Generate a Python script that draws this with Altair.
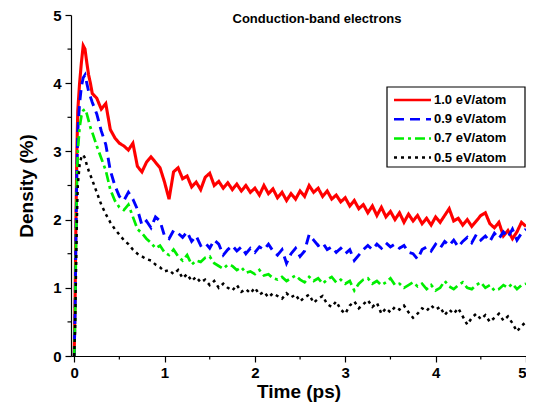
import altair as alt
import pandas as pd

# ---- data ----
t_early = [0, 0.01, 0.02, 0.03, 0.04, 0.06, 0.08, 0.10, 0.12, 0.14, 0.16, 0.18, 0.20]

red_early = [0, 0.8, 2.0, 3.0, 3.6, 4.0, 4.3, 4.55, 4.5, 4.3, 4.12, 4.0, 3.85]
red_late = [3.78, 3.62, 3.7, 3.32, 3.2, 3.12, 3.08, 3.02, 3.12, 2.78, 2.7, 2.84, 2.92, 2.84, 2.76, 2.55,
            2.3, 2.7, 2.76, 2.6, 2.64, 2.48, 2.55, 2.44, 2.62, 2.68, 2.5, 2.56, 2.46, 2.54, 2.44, 2.52,
            2.42, 2.5, 2.4, 2.46, 2.36, 2.5, 2.38, 2.45, 2.32, 2.4, 2.28, 2.38, 2.3, 2.42, 2.34, 2.5,
            2.4, 2.46, 2.34, 2.42, 2.3, 2.36, 2.26, 2.32, 2.2, 2.28, 2.16, 2.22, 2.1, 2.2, 2.06, 2.18,
            2.04, 2.12, 2.0, 2.1, 1.96, 2.08, 1.98, 2.06, 1.94, 2.02, 1.92, 2.04, 1.96, 2.06, 2.16, 1.98,
            2.02, 1.92, 2.0, 1.9, 1.98, 2.06, 2.1, 1.94, 1.88, 1.96, 1.76, 1.84, 1.72, 1.82, 1.96, 1.9]

blue_early = [0, 0.6, 1.8, 2.7, 3.3, 3.7, 3.95, 4.08, 4.12, 4.0, 3.88, 3.8, 3.72]
blue_late = [3.55, 3.3, 3.1, 2.72, 2.5, 2.34, 2.28, 2.4, 2.3, 2.15, 1.92, 1.98, 1.88, 2.04, 1.98, 1.76,
             1.72, 1.84, 1.8, 1.74, 1.82, 1.68, 1.76, 1.62, 1.66, 1.58, 1.7, 1.64, 1.48, 1.56, 1.62, 1.54,
             1.6, 1.5, 1.58, 1.52, 1.6, 1.56, 1.64, 1.54, 1.48, 1.56, 1.36, 1.5, 1.58, 1.46, 1.54, 1.78,
             1.7, 1.62, 1.66, 1.56, 1.6, 1.52, 1.58, 1.5, 1.56, 1.4, 1.48, 1.56, 1.62, 1.56, 1.64, 1.58,
             1.66, 1.6, 1.64, 1.58, 1.62, 1.52, 1.5, 1.42, 1.56, 1.6, 1.54, 1.64, 1.58, 1.68, 1.62, 1.7,
             1.6, 1.68, 1.74, 1.66, 1.78, 1.7, 1.76, 1.68, 1.8, 1.72, 1.82, 1.74, 1.86, 1.7, 1.8, 1.86]

green_early = [0, 0.5, 1.6, 2.5, 3.0, 3.35, 3.52, 3.6, 3.62, 3.55, 3.45, 3.35, 3.28]
green_late = [3.08, 2.9, 2.72, 2.44, 2.28, 2.18, 2.14, 2.22, 2.04, 1.86, 1.8, 1.72, 1.66, 1.58, 1.62, 1.52,
              1.48, 1.56, 1.46, 1.4, 1.48, 1.34, 1.4, 1.38, 1.44, 1.46, 1.36, 1.32, 1.28, 1.34, 1.32, 1.26,
              1.3, 1.22, 1.24, 1.2, 1.26, 1.18, 1.2, 1.14, 1.12, 1.16, 1.1, 1.14, 1.18, 1.12, 1.08, 1.16,
              1.1, 1.14, 1.06, 1.12, 1.16, 1.08, 1.12, 1.06, 1.1, 0.96, 1.06, 1.12, 1.14, 1.06, 1.1, 1.04,
              1.08, 1.14, 1.04, 1.06, 1.0, 1.04, 1.08, 1.02, 1.06, 0.98, 1.04, 0.96, 1.0, 1.1, 1.02, 0.98,
              1.04, 1.08, 1.0, 0.98, 1.04, 1.08, 1.0, 1.04, 0.96, 0.98, 1.04, 1.0, 1.06, 0.98, 1.04, 1.06]

black_early = [0, 0.4, 1.2, 2.0, 2.5, 2.8, 2.92, 2.95, 2.9, 2.8, 2.72, 2.65, 2.58]
black_late = [2.4, 2.22, 2.08, 1.96, 1.86, 1.78, 1.7, 1.64, 1.56, 1.5, 1.46, 1.42, 1.4, 1.34, 1.3, 1.24,
              1.26, 1.2, 1.26, 1.14, 1.2, 1.1, 1.16, 1.08, 1.12, 1.04, 1.1, 1.0, 1.06, 1.0, 0.96, 1.04,
              0.94, 0.98, 0.92, 1.0, 0.9, 0.94, 0.86, 0.92, 0.88, 0.84, 0.92, 0.86, 0.9, 0.8, 0.86, 0.9,
              0.78, 0.84, 0.88, 0.76, 0.72, 0.8, 0.68, 0.62, 0.74, 0.8, 0.7, 0.76, 0.82, 0.72, 0.78, 0.62,
              0.7, 0.64, 0.72, 0.68, 0.74, 0.64, 0.56, 0.62, 0.7, 0.66, 0.74, 0.68, 0.72, 0.6, 0.68, 0.62,
              0.7, 0.58, 0.46, 0.56, 0.62, 0.54, 0.6, 0.5, 0.56, 0.62, 0.52, 0.58, 0.48, 0.36, 0.44, 0.5]

series_names = ["1.0 eV/atom", "0.9 eV/atom", "0.7 eV/atom", "0.5 eV/atom"]
series_colors = ["#ff0000", "#0000ff", "#00ee00", "#000000"]
series_dash = [[1, 0], [10, 6], [10, 4, 3, 4], [3, 4]]
series_width = [3.1, 2.5, 2.5, 2.5]

x_major = [0, 1, 2, 3, 4, 5]
x_minor = [0.5, 1.5, 2.5, 3.5, 4.5]
y_major = [0, 1, 2, 3, 4, 5]
y_minor = [0.5, 1.5, 2.5, 3.5, 4.5]

rows = []
for name, early, late in zip(series_names,
                             [red_early, blue_early, green_early, black_early],
                             [red_late, blue_late, green_late, black_late]):
    ts = t_early + [round(0.25 + 0.05 * i, 2) for i in range(len(late))]
    vs = early + late
    for order, (tt, vv) in enumerate(zip(ts, vs)):
        rows.append({"t": tt, "d": vv, "series": name, "o": order})
df = pd.DataFrame(rows)

W, H = 455, 341
FONT = "Liberation Sans"

xscale = alt.Scale(domain=[-0.035, 5], nice=False, zero=False)
yscale = alt.Scale(domain=[0, 5], nice=False)
cscale = alt.Scale(domain=series_names, range=series_colors)
dscale = alt.Scale(domain=series_names, range=series_dash)
wscale = alt.Scale(domain=series_names, range=series_width)

lines = alt.Chart(df).mark_line(clip=True).encode(
    x=alt.X("t:Q", scale=xscale,
            axis=alt.Axis(title="Time (ps)", values=x_major, format="d", tickSize=6,
                          labelPadding=3, titlePadding=2, grid=False)),
    y=alt.Y("d:Q", scale=yscale,
            axis=alt.Axis(title="Density (%)", values=y_major, format="d", tickSize=6,
                          labelPadding=4, titlePadding=16, grid=False)),
    color=alt.Color("series:N", scale=cscale, legend=None),
    strokeDash=alt.StrokeDash("series:N", scale=dscale, legend=None),
    strokeWidth=alt.StrokeWidth("series:N", scale=wscale, legend=None),
    order="o:Q",
)

xminor = alt.Chart(pd.DataFrame({"t": x_minor})).mark_rule(color="black", strokeWidth=1.2).encode(
    x=alt.X("t:Q", scale=xscale),
    y=alt.value(H), y2=alt.value(H + 3.5),
)
yminor = alt.Chart(pd.DataFrame({"d": y_minor})).mark_rule(color="black", strokeWidth=1.2).encode(
    y=alt.Y("d:Q", scale=yscale),
    x=alt.value(0), x2=alt.value(-3.5),
)

title = alt.Chart(pd.DataFrame({"label": ["Conduction-band electrons"]})).mark_text(
    font=FONT, fontSize=13, fontWeight="bold", color="black",
    align="center", baseline="middle").encode(
    text="label:N", x=alt.value(246), y=alt.value(4)
)

# custom legend box
LX0, LX1, LY0, LY1 = 316, 454, 72, 152
box = alt.Chart(pd.DataFrame({"k": [0]})).mark_rect(
    fill="white", stroke="black", strokeWidth=1.2).encode(
    x=alt.value(LX0), x2=alt.value(LX1), y=alt.value(LY0), y2=alt.value(LY1))

legend_layers = [box]
for i, name in enumerate(series_names):
    ypix = 85 + i * 19.2
    ldf = pd.DataFrame({"series": [name]})
    legend_layers.append(
        alt.Chart(ldf).mark_rule(strokeWidth=2.5).encode(
            x=alt.value(323), x2=alt.value(360), y=alt.value(ypix),
            color=alt.Color("series:N", scale=cscale, legend=None),
            strokeDash=alt.StrokeDash("series:N", scale=dscale, legend=None),
        ))
    legend_layers.append(
        alt.Chart(ldf).mark_text(font=FONT, fontSize=13, fontWeight="bold", color="black",
                                 align="left", baseline="middle").encode(
            x=alt.value(363), y=alt.value(ypix), text="series:N"))

chart = alt.layer(lines, xminor, yminor, title, *legend_layers).properties(
    width=W, height=H,
    padding={"left": 63, "top": 7, "right": 0, "bottom": 46},
    autosize=alt.AutoSizeParams(type="none"),
).configure_view(stroke=None).configure_axis(
    domainColor="black", tickColor="black", domainWidth=1.2, tickWidth=1.2,
    labelFont=FONT, labelFontSize=15, labelFontWeight="bold", labelColor="black",
    titleFont=FONT, titleFontSize=19, titleFontWeight="bold", titleColor="black",
)

chart.save("out.html", embed_options={"renderer": "svg", "actions": False})
